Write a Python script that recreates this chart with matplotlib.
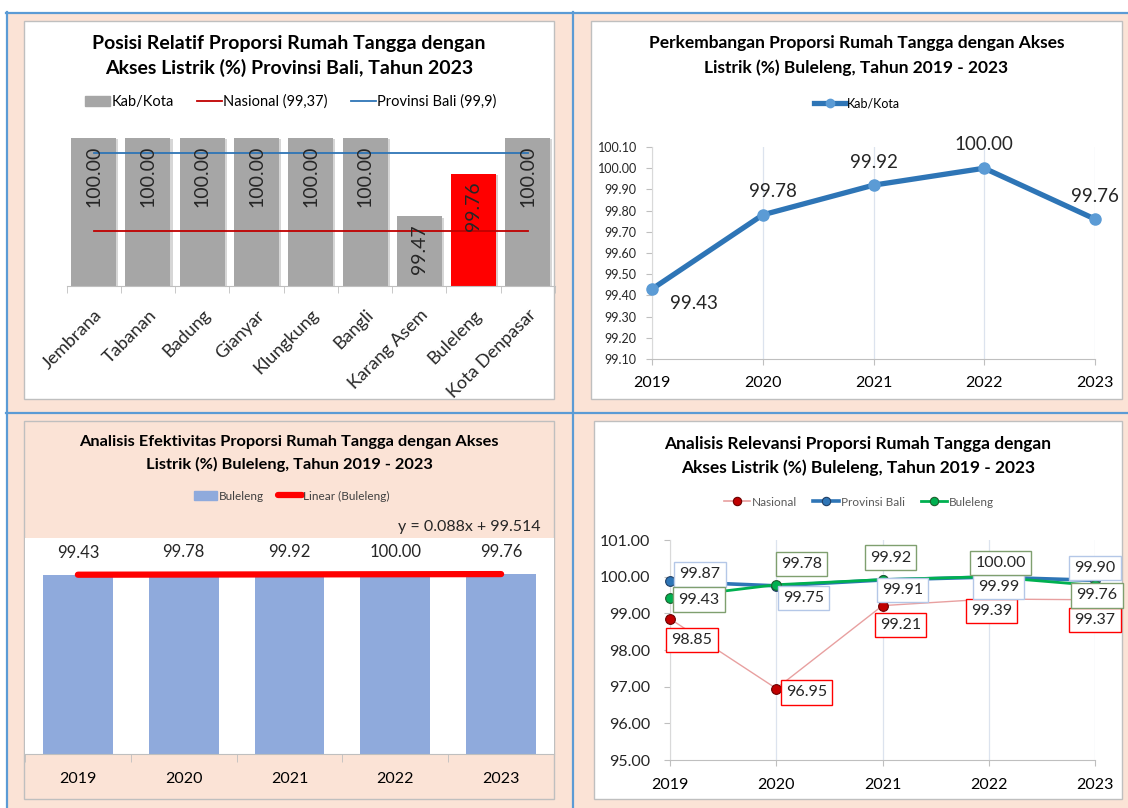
import numpy as np
import matplotlib.pyplot as plt
from matplotlib.patches import Rectangle, Patch
from matplotlib.lines import Line2D
from matplotlib.ticker import FormatStrFormatter
import matplotlib.patheffects as pe

plt.rcParams['font.family'] = ['Lato', 'DejaVu Sans']

# --- data
kabkota = ['Jembrana', 'Tabanan', 'Badung', 'Gianyar', 'Klungkung', 'Bangli',
           'Karang Asem', 'Buleleng', 'Kota Denpasar']
akses_2023 = [100.00, 100.00, 100.00, 100.00, 100.00, 100.00, 99.47, 99.76, 100.00]
nasional_2023 = 99.37
provinsi_2023 = 99.9

tahun = ['2019', '2020', '2021', '2022', '2023']
buleleng = [99.43, 99.78, 99.92, 100.00, 99.76]
nasional = [98.85, 96.95, 99.21, 99.39, 99.37]
provinsi_bali = [99.87, 99.75, 99.91, 99.99, 99.90]

# --- layout helpers (pixel coords, origin top-left)
W, H = 1128, 808
PEACH = '#FBE3D6'
BLUE_RULE = '#5B9BD5'
BOX_EDGE = '#BFBFBF'

fig = plt.figure(figsize=(W / 100, H / 100), dpi=100)
fig.patch.set_facecolor('white')


def fx(x):
    return x / W


def fy(y):
    return 1 - y / H


def axes_px(x0, y0, x1, y1, **kw):
    return fig.add_axes([x0 / W, 1 - y1 / H, (x1 - x0) / W, (y1 - y0) / H], **kw)


def rect_px(x0, y0, x1, y1, fc, ec='none', z=-10):
    fig.add_artist(Rectangle((fx(x0), fy(y1)), (x1 - x0) / W, (y1 - y0) / H,
                             transform=fig.transFigure, fc=fc, ec=ec, lw=1, zorder=z))


def line_px(x0, y0, x1, y1):
    fig.add_artist(Line2D([fx(x0), fx(x1)], [fy(y0), fy(y1)], transform=fig.transFigure,
                          color=BLUE_RULE, lw=1.6, zorder=-8))


# background and grid rules
rect_px(7, 13, W, H, PEACH)
line_px(6.5, 12, 6.5, H)
line_px(6, 12.5, W, 12.5)
line_px(573, 12, 573, H)
line_px(6, 413, W, 413)

# chart boxes
rect_px(24, 21, 554, 399, 'white', BOX_EDGE, z=-5)
rect_px(591, 21, 1122, 399, 'white', BOX_EDGE, z=-5)
rect_px(24, 421, 554, 799, PEACH, BOX_EDGE, z=-5)
rect_px(594, 421, 1122, 799, 'white', BOX_EDGE, z=-5)


def title(cx, y1, y2, l1, l2, size):
    fig.text(fx(cx), fy(y1), l1, ha='center', va='center', fontsize=size, fontweight='bold')
    fig.text(fx(cx), fy(y2), l2, ha='center', va='center', fontsize=size, fontweight='bold')


def clean(ax):
    for s in ['top', 'right', 'left']:
        ax.spines[s].set_visible(False)
    ax.spines['bottom'].set_color(BOX_EDGE)


# ================= Panel 1 =================
title(289, 43, 68, 'Posisi Relatif Proporsi Rumah Tangga dengan',
      'Akses Listrik (%) Provinsi Bali, Tahun 2023', 14)

ax1 = axes_px(66.5, 138, 555, 286)
ax1.patch.set_alpha(0)
x1 = np.arange(len(kabkota))
bar_cols = ['#FF0000' if k == 'Buleleng' else '#A6A6A6' for k in kabkota]
ax1.bar(x1, akses_2023, width=0.83, color=bar_cols, zorder=2,
        path_effects=[pe.SimplePatchShadow(offset=(1.5, -1), alpha=0.2), pe.Normal()])
ax1.plot([x1[0], x1[-1]], [nasional_2023] * 2, color='#C00000', lw=1.3, zorder=3)
ax1.plot([x1[0], x1[-1]], [provinsi_2023] * 2, color='#2E75B6', lw=1.3, zorder=3)
for i, v in enumerate(akses_2023):
    ax1.annotate(f'{v:.2f}', (i, v), xytext=(0, -8), textcoords='offset pixels',
                 rotation=90, ha='center', va='top', fontsize=14, color='#262626', zorder=4)
ax1.set_xlim(-0.5, len(kabkota) - 0.5)
ax1.set_ylim(99, 100)
ax1.yaxis.set_visible(False)
clean(ax1)
ax1.set_xticks(x1)
ax1.set_xticklabels(kabkota, rotation=45, ha='right', rotation_mode='anchor',
                    fontsize=13, color='#262626')
ax1.set_xticks(np.arange(-0.5, len(kabkota), 1), minor=True)
ax1.tick_params(axis='x', which='major', length=0, pad=15)
ax1.tick_params(axis='x', which='minor', length=5, color=BOX_EDGE)

fig.legend(handles=[Patch(color='#A6A6A6'),
                    Line2D([], [], color='#C00000', lw=1.3),
                    Line2D([], [], color='#2E75B6', lw=1.3)],
           labels=['Kab/Kota', 'Nasional (99,37)', 'Provinsi Bali (99,9)'],
           loc='center', bbox_to_anchor=(fx(291), fy(102)), ncol=3, frameon=False,
           fontsize=10.5, handlelength=1.7, handletextpad=0.1, columnspacing=1.6)

# ================= Panel 2 =================
title(856.5, 43, 68, 'Perkembangan Proporsi Rumah Tangga dengan Akses',
      'Listrik (%) Buleleng, Tahun 2019 - 2023', 12.5)

ax2 = axes_px(652, 147, 1095, 359)
ax2.patch.set_alpha(0)
xt = np.arange(len(tahun))
ax2.plot(xt, buleleng, color='#2E75B6', lw=3.8, marker='o', ms=8,
         mfc='#5B9BD5', mec='#5B9BD5', clip_on=False, zorder=3)
offs2 = [(42, -14), (10, 23), (0, 23), (0, 24), (0, 23)]
for i, v in enumerate(buleleng):
    ax2.annotate(f'{v:.2f}', (i, v), xytext=offs2[i], textcoords='offset pixels',
                 ha='center', va='center', fontsize=13.5, color='#262626')
ax2.set_xlim(0, len(tahun) - 1)
ax2.set_ylim(99.1, 100.1)
ax2.set_yticks(np.linspace(99.1, 100.1, 11))
ax2.yaxis.set_major_formatter(FormatStrFormatter('%.2f'))
ax2.set_xticks(xt)
ax2.set_xticklabels(tahun)
for s in ['top', 'right']:
    ax2.spines[s].set_visible(False)
ax2.spines['left'].set_color('#D9D9D9')
ax2.spines['bottom'].set_color(BOX_EDGE)
ax2.grid(axis='x', color='#DCE3EE', lw=0.9)
ax2.tick_params(axis='y', labelsize=9, length=4, color=BOX_EDGE, pad=7, labelcolor='#262626')
ax2.tick_params(axis='x', labelsize=11.5, length=4, color=BOX_EDGE, pad=8, labelcolor='#000000')

fig.legend(handles=[Line2D([], [], color='#2E75B6', lw=3.8, marker='o', ms=6,
                           mfc='#5B9BD5', mec='#5B9BD5')],
           labels=['Kab/Kota'], loc='center', bbox_to_anchor=(fx(857), fy(103)),
           frameon=False, fontsize=9, handlelength=2.6, handletextpad=0.1)

# ================= Panel 3 =================
title(289, 442, 464, 'Analisis Efektivitas Proporsi Rumah Tangga dengan Akses',
      'Listrik (%) Buleleng, Tahun 2019 - 2023', 11.8)

ax3 = axes_px(25, 538, 554, 754, facecolor='white')
ax3.bar(xt, buleleng, width=0.66, color='#8FAADC', zorder=2)
coef = np.polyfit(np.arange(1, len(buleleng) + 1), buleleng, 1)
trend = np.polyval(coef, np.arange(1, len(buleleng) + 1))
ax3.plot(xt, trend, color='#FF0000', lw=4.5, solid_capstyle='round', zorder=3)
for i, v in enumerate(buleleng):
    ax3.annotate(f'{v:.2f}', (i, v), xytext=(0, 22), textcoords='offset pixels',
                 ha='center', va='center', fontsize=12, color='#262626')
ax3.set_xlim(-0.5, len(tahun) - 0.5)
ax3.set_ylim(0, 120)
ax3.yaxis.set_visible(False)
clean(ax3)
ax3.set_xticks(xt)
ax3.set_xticklabels(tahun, fontsize=11.5)
ax3.set_xticks(np.arange(-0.5, len(tahun), 1), minor=True)
ax3.tick_params(axis='x', which='major', length=0, pad=13)
ax3.tick_params(axis='x', which='minor', length=6, color=BOX_EDGE)
fig.text(fx(541), fy(527), f'y = {coef[0]:.3f}x + {coef[1]:.3f}', ha='right', va='center',
         fontsize=11.5, color='#262626')

fig.legend(handles=[Patch(color='#8FAADC'),
                    Line2D([], [], color='#FF0000', lw=4.5, solid_capstyle='round')],
           labels=['Buleleng', 'Linear (Buleleng)'], loc='center',
           bbox_to_anchor=(fx(291.5), fy(496)), ncol=2, frameon=False, fontsize=8.5,
           handlelength=2.0, handletextpad=0.1, columnspacing=1.2, labelcolor='#404040')

# ================= Panel 4 =================
title(858, 444, 468, 'Analisis Relevansi Proporsi Rumah Tangga dengan',
      'Akses Listrik (%) Buleleng, Tahun 2019 - 2023', 12.5)

ax4 = axes_px(670, 540, 1095, 760)
ax4.patch.set_alpha(0)
series = [
    ('Nasional', nasional, '#E8A0A0', 1.0, '#C00000', '#6B0000', '#FF0000',
     [(22, -21), (30, -4), (18, -19), (3, -12), (0, -20)]),
    ('Provinsi Bali', provinsi_bali, '#2E75B6', 2.6, '#2E75B6', '#1F3F66', '#B4C7E7',
     [(30, 7), (27, -12), (20, -10), (10, -10), (0, 12)]),
    ('Buleleng', buleleng, '#00B050', 2.0, '#00B050', '#1E5E2E', '#7F9F6F',
     [(29, -2), (25, 21), (8, 22), (12, 14), (2, -10)]),
]
handles4 = []
for name, vals, lc, lw, mc, me, bc, offs in series:
    ax4.plot(xt, vals, color=lc, lw=lw, marker='o', ms=7, mfc=mc, mec=me, mew=0.8,
             clip_on=False, zorder=3)
    handles4.append(Line2D([], [], color=lc, lw=max(lw, 1.2),
                           marker='o', ms=6, mfc=mc, mec=me, mew=0.8))
for name, vals, lc, lw, mc, me, bc, offs in series:
    for i, v in enumerate(vals):
        ax4.annotate(f'{v:.2f}', (i, v), xytext=offs[i], textcoords='offset pixels',
                     ha='center', va='center', fontsize=11.5, color='#262626', zorder=5,
                     bbox=dict(boxstyle='square,pad=0.32', fc='white', ec=bc, lw=1.0))
ax4.set_xlim(0, len(tahun) - 1)
ax4.set_ylim(95, 101)
ax4.set_yticks(np.arange(95, 102, 1))
ax4.yaxis.set_major_formatter(FormatStrFormatter('%.2f'))
ax4.set_xticks(xt)
ax4.set_xticklabels(tahun)
for s in ['top', 'right']:
    ax4.spines[s].set_visible(False)
ax4.spines['left'].set_color('#D9D9D9')
ax4.spines['bottom'].set_color(BOX_EDGE)
ax4.grid(axis='x', color='#DCE3EE', lw=0.9)
ax4.tick_params(axis='y', labelsize=11.5, length=4, color=BOX_EDGE, pad=10, labelcolor='#262626')
ax4.tick_params(axis='x', labelsize=11.5, length=4, color=BOX_EDGE, pad=9, labelcolor='#000000')

fig.legend(handles=handles4, labels=[s[0] for s in series], loc='center',
           bbox_to_anchor=(fx(859), fy(502)), ncol=3, frameon=False, fontsize=8.5,
           handlelength=2.2, handletextpad=0.15, columnspacing=1.4, labelcolor='#595959')

fig.savefig('out.png', dpi=100)
